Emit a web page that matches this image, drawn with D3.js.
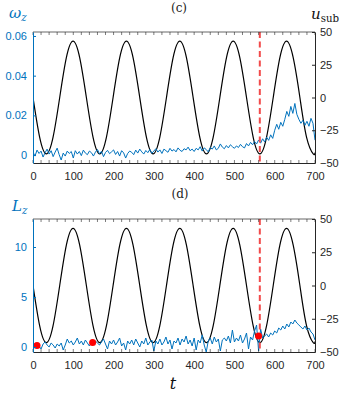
<!DOCTYPE html>
<html><head><meta charset="utf-8">
<script src="https://cdn.jsdelivr.net/npm/d3@7"></script>
<style>body{margin:0;background:#fff}svg{display:block}</style>
</head><body>
<script>
// ---------- DATA ----------
const tTicks = [0,100,200,300,400,500,600,700];
const omegaTicks = [0,0.02,0.04,0.06];
const omegaTickLabels = ["0","0.02","0.04","0.06"];
const LzTicks = [0,5,10];
const uTicks = [-50,-25,0,25,50];
// sampled time grid for noisy series (step 5)
const tNoise = d3.range(0, 701, 5);
// omega_z (x 1e-3)
const omegaZ = [
 1.5,-0.5,2.5,0.8,2.0,-1.0,1.2,3.0,0.5,2.2,-0.8,1.5,3.5,0.2,-2.5,1.0,-0.5,2.0,0.8,1.8,
 -1.5,2.2,0.5,1.8,-0.3,2.5,1.0,0.2,2.0,1.2,-0.5,1.5,2.8,0.6,1.9,-0.8,1.3,2.4,0.7,1.6,
 2.6,0.3,1.8,-0.5,2.2,1.1,-1.5,0.8,2.0,1.4,0.2,2.5,1.0,3.0,1.6,0.5,2.3,1.2,2.8,0.9,
 2.0,3.2,1.5,2.6,0.8,3.0,2.2,1.4,3.4,2.0,2.8,1.6,3.6,2.4,1.8,3.2,2.6,4.0,2.2,3.0,
 1.8,3.4,2.6,4.2,2.0,3.6,2.8,1.6,3.8,3.0,4.6,2.6,3.4,5.6,4.0,3.2,4.8,3.6,5.2,4.2,
 3.4,4.6,3.8,5.4,4.2,3.6,5.8,4.6,6.4,5.2,6.8,5.6,7.6,6.0,8.2,6.6,9.0,7.4,10.2,8.4,
 12.5,15.5,13.0,16.5,14.5,18.0,22.0,19.5,24.5,21.0,26.0,20.5,18.0,16.0,17.5,15.0,17.0,14.5,18.5,16.0,
 7.5];
// L_z
const Lz = [
 0.2,0.0,0.3,0.1,-0.2,0.3,0.5,0.2,0.0,0.4,0.2,-0.1,0.3,0.1,0.4,-0.3,0.2,0.8,0.4,0.6,
 0.2,0.5,0.9,0.3,0.6,0.2,0.7,0.4,0.1,0.5,0.3,0.6,0.4,0.2,0.5,0.8,0.3,-0.2,0.6,0.3,
 0.7,0.2,0.5,0.9,0.1,0.4,-0.3,0.6,0.3,0.7,0.2,0.8,0.4,0.0,0.6,0.3,0.9,0.2,0.5,0.7,
 -0.4,0.6,0.3,0.8,0.2,0.5,1.0,0.3,0.7,-0.2,0.6,0.4,0.9,0.2,0.8,0.5,1.1,0.3,0.7,0.1,
 0.9,-0.3,0.7,0.4,1.2,0.2,-0.5,0.6,0.9,0.3,1.0,0.5,0.8,-0.4,0.7,0.9,0.6,1.1,0.4,1.7,
 0.5,0.9,0.6,1.2,0.4,0.8,1.4,-0.2,1.0,0.7,1.6,2.2,-0.4,1.8,0.9,1.1,1.3,1.0,1.4,1.2,
 1.6,1.4,1.9,1.7,2.1,1.8,2.3,2.0,2.5,2.3,2.7,2.4,2.2,2.0,1.8,2.1,1.7,1.9,1.5,1.3,
 0.7];
// u_sub knots
const tSub = [0,16.6,33.1,49.7,66.3,82.8,99.4,115.9,132.5,149.1,165.6,182.2,198.8,215.3,231.9,248.4,
 265.0,281.6,298.1,314.7,331.3,347.8,364.4,380.9,397.5,414.1,430.6,447.2,463.8,480.3,496.9,513.4,
 530.0,546.6,563.1,579.7,596.3,612.8,629.4,645.9,662.5,679.1,695.6,700];
const uSub = [0,-30.4,-43,-30.4,0,30.4,43,30.4,0,-30.4,-43,-30.4,0,30.4,43,30.4,
 0,-30.4,-43,-30.4,0,30.4,43,30.4,0,-30.4,-43,-30.4,0,30.4,43,30.4,
 0,-30.4,-43,-30.4,0,30.4,43,30.4,0,-30.4,-43,-42.1];
const tMark = 563;
const dotT = [10,148,560];
const dotLz = [0.15,0.45,1.1];

// ---------- DRAW ----------
const W=345,H=398;
const BLUE="#0072BD", AX="#262626", RED="#f24a4a";
const svg=d3.select("body").append("svg").attr("width",W).attr("height",H);
const tickFont="'Liberation Sans', Arial, sans-serif";
const serif="'DejaVu Serif','Liberation Serif',serif";

function panel(top,bottom,leftDomain,leftTicks,leftLabels,series,dots){
  const x=d3.scaleLinear().domain([0,700]).range([33,315]);
  const yL=d3.scaleLinear().domain(leftDomain).range([bottom,top]);
  const yR=d3.scaleLinear().domain([-50,50]).range([bottom,top]);
  const g=svg.append("g");
  const clipId="clip"+top;
  svg.append("clipPath").attr("id",clipId).append("rect")
    .attr("x",33).attr("y",top).attr("width",282).attr("height",bottom-top);
  // u_sub curve
  const pts=tSub.map((t,i)=>[t,uSub[i]]);
  g.append("path").datum(pts).attr("clip-path",`url(#${clipId})`)
    .attr("d",d3.line().x(d=>x(d[0])).y(d=>yR(d[1])).curve(d3.curveNatural))
    .attr("fill","none").attr("stroke","#000").attr("stroke-width",1.2);
  // noisy series
  const sp=tNoise.map((t,i)=>[t,series[i]]);
  g.append("path").datum(sp).attr("clip-path",`url(#${clipId})`)
    .attr("d",d3.line().x(d=>x(d[0])).y(d=>yL(d[1])))
    .attr("fill","none").attr("stroke",BLUE).attr("stroke-width",1);
  // dashed marker
  g.append("line").attr("x1",x(tMark)).attr("x2",x(tMark)).attr("y1",top).attr("y2",bottom)
    .attr("stroke",RED).attr("stroke-width",2).attr("stroke-dasharray","6,3.5");
  if(dots){
    g.selectAll("circle.dot").data(dots[0].map((t,i)=>[t,dots[1][i]])).enter().append("circle")
      .attr("cx",d=>x(d[0])).attr("cy",d=>yL(d[1])).attr("r",3.5).attr("fill","#ff0000");
  }
  // bottom axis
  const xb=g.append("g").attr("transform",`translate(0,${bottom})`)
    .call(d3.axisBottom(x).tickValues(tTicks).tickSize(0).tickPadding(9).tickFormat(d3.format("d")));
  xb.select(".domain").attr("stroke",AX);
  xb.selectAll("text").attr("font-family",tickFont).attr("font-size",11).attr("fill",AX);
  // minor ticks top/bottom
  const minor=d3.range(0,701,20);
  g.selectAll("line.mt").data(minor).enter().append("line")
    .attr("x1",d=>x(d)).attr("x2",d=>x(d)).attr("y1",bottom).attr("y2",bottom-3).attr("stroke",AX).attr("stroke-width",0.6);
  g.selectAll("line.mtt").data(minor).enter().append("line")
    .attr("x1",d=>x(d)).attr("x2",d=>x(d)).attr("y1",top).attr("y2",top+3).attr("stroke",AX).attr("stroke-width",0.6);
  g.append("line").attr("x1",33).attr("x2",315).attr("y1",top).attr("y2",top).attr("stroke",AX).attr("stroke-width",0.7);
  // left axis
  const yl=g.append("g").attr("transform","translate(33,0)")
    .call(d3.axisLeft(yL).tickValues(leftTicks).tickSizeInner(-3).tickSizeOuter(0).tickPadding(6)
      .tickFormat((d,i)=>leftLabels[i]));
  yl.select(".domain").attr("stroke",BLUE);
  yl.selectAll(".tick line").attr("stroke",BLUE);
  yl.selectAll("text").attr("font-family",tickFont).attr("font-size",11).attr("fill",BLUE);
  // right axis
  const yr=g.append("g").attr("transform","translate(315,0)")
    .call(d3.axisRight(yR).tickValues(uTicks).tickSizeInner(-3).tickSizeOuter(0).tickPadding(5));
  yr.select(".domain").attr("stroke",AX);
  yr.selectAll(".tick line").attr("stroke",AX);
  yr.selectAll("text").attr("font-family",tickFont).attr("font-size",11).attr("fill",AX);
  return g;
}

panel(32,163,[-0.004,0.062],omegaTicks,omegaTickLabels,omegaZ.map(v=>v*1e-3),null);
panel(219,352,[-0.5,12.8],LzTicks,LzTicks.map(String),Lz,[dotT,dotLz]);

// titles and labels
svg.append("text").attr("x",179).attr("y",12).attr("text-anchor","middle")
  .attr("font-family",serif).attr("font-size",12).attr("fill","#222").text("(c)");
svg.append("text").attr("x",180).attr("y",198).attr("text-anchor","middle")
  .attr("font-family",serif).attr("font-size",12).attr("fill","#222").text("(d)");
function lab(x,y,main,sub,color,fs,subItalic){
  const t=svg.append("text").attr("x",x).attr("y",y).attr("font-family",serif).attr("fill",color);
  t.append("tspan").attr("font-style","italic").attr("font-size",fs).text(main);
  t.append("tspan").attr("font-style",subItalic?"italic":"normal").attr("font-size",fs*0.68).attr("dy",3).text(sub);
}
lab(9,18,"ω","z",BLUE,15,true);
lab(311,19,"u","sub","#111",15,false);
lab(12,211,"L","z",BLUE,15,true);
svg.append("text").attr("x",173).attr("y",389).attr("text-anchor","middle")
  .attr("font-family",serif).attr("font-style","italic").attr("font-size",16).attr("fill","#111").text("t");
</script>
</body></html>
